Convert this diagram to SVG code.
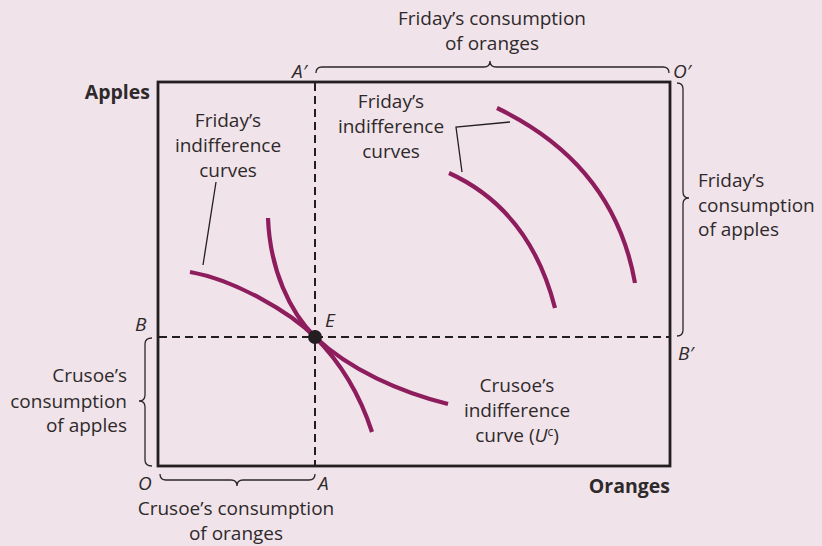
<svg xmlns="http://www.w3.org/2000/svg" width="822" height="546" viewBox="0 0 822 546">
<style>
text{font-family:"Open Sans","Liberation Sans",sans-serif;font-size:19px;fill:#2e2a2b}
.c{text-anchor:middle}
.r{text-anchor:end}
.i{font-style:italic}
.b{font-weight:bold;font-size:19.5px}
.curve{fill:none;stroke:#8d1d5c;stroke-width:4.2;stroke-linecap:butt}
.brace{fill:none;stroke:#2b2728;stroke-width:1.3}
.dash{fill:none;stroke:#231f20;stroke-width:2;stroke-dasharray:8 5}
.lead{fill:none;stroke:#231f20;stroke-width:1.3}
</style>
<rect width="822" height="546" fill="#f1e3ea"/>
<g id="box"><rect x="158" y="82" width="512" height="384" fill="none" stroke="#231f20" stroke-width="2.8"/></g>
<g id="connectors">
<path class="dash" d="M315,83 V466"/>
<path class="dash" d="M159,337 H669"/>
<path class="lead" d="M216,182 L203,265"/>
<path class="lead" d="M510,122 L456,127 L462,172"/>
<path class="brace" d="M316,73 Q316,67 322,67 L484,67 Q490,67 490,61 Q490,67 496,67 L663,67 Q669,67 669,73"/>
<path class="brace" d="M677,83 Q683,83 683,89 L683,192 Q683,198 689,198 Q683,198 683,204 L683,330 Q683,336 677,336"/>
<path class="brace" d="M152,338 Q145,338 145,344 L145,395 Q145,401 139,401 Q145,401 145,407 L145,460 Q145,466 152,466"/>
<path class="brace" d="M160,474 Q160,480 166,480 L231,480 Q237,480 237,486 Q237,480 243,480 L309,480 Q315,480 315,474"/>
</g>
<g id="friday-curves">
<path class="curve" d="M190,272 C235,280 290,312 315,337 C340,362 360,395 372,432"/>
<path class="curve" d="M449,173 Q530,210 555,308"/>
<path class="curve" d="M497,108 Q614,164 635,283"/>
</g>
<g id="crusoe-curve">
<path class="curve" d="M268,218 C270,270 290,312 315,337 C350,370 400,392 448,404"/>
</g>
<g id="point-E"><circle cx="315" cy="337" r="7" fill="#231f20"/><text class="i" x="325" y="327">E</text></g>
<g id="labels">
<text class="i" x="292" y="78">A′</text>
<text class="i" x="673" y="78">O′</text>
<text class="i" x="135" y="331">B</text>
<text class="i" x="678" y="360">B′</text>
<text class="i" x="138" y="490">O</text>
<text class="i" x="318" y="490">A</text>
<text class="b r" x="150" y="99">Apples</text>
<text class="b r" x="670" y="493">Oranges</text>
</g>
<g id="friday-oranges"><text class="c" x="492" y="25">Friday’s consumption</text><text class="c" x="492" y="50">of oranges</text></g>
<g id="friday-apples"><text x="698" y="187">Friday’s</text><text x="698" y="212">consumption</text><text x="698" y="236">of apples</text></g>
<g id="crusoe-apples"><text class="r" x="127" y="382">Crusoe’s</text><text class="r" x="127" y="408">consumption</text><text class="r" x="127" y="432">of apples</text></g>
<g id="crusoe-oranges"><text class="c" x="236" y="515">Crusoe’s consumption</text><text class="c" x="236" y="540">of oranges</text></g>
<g id="friday-ic-left"><text class="c" x="228" y="127">Friday’s</text><text class="c" x="228" y="152">indifference</text><text class="c" x="228" y="177">curves</text></g>
<g id="friday-ic-right"><text class="c" x="391" y="108">Friday’s</text><text class="c" x="391" y="133">indifference</text><text class="c" x="391" y="158">curves</text></g>
<g id="crusoe-ic"><text class="c" x="517" y="392">Crusoe’s</text><text class="c" x="517" y="417">indifference</text><text class="c" x="517" y="442">curve (<tspan class="i">U</tspan><tspan font-size="12" dy="-6">c</tspan><tspan dy="6">)</tspan></text></g>
</svg>
